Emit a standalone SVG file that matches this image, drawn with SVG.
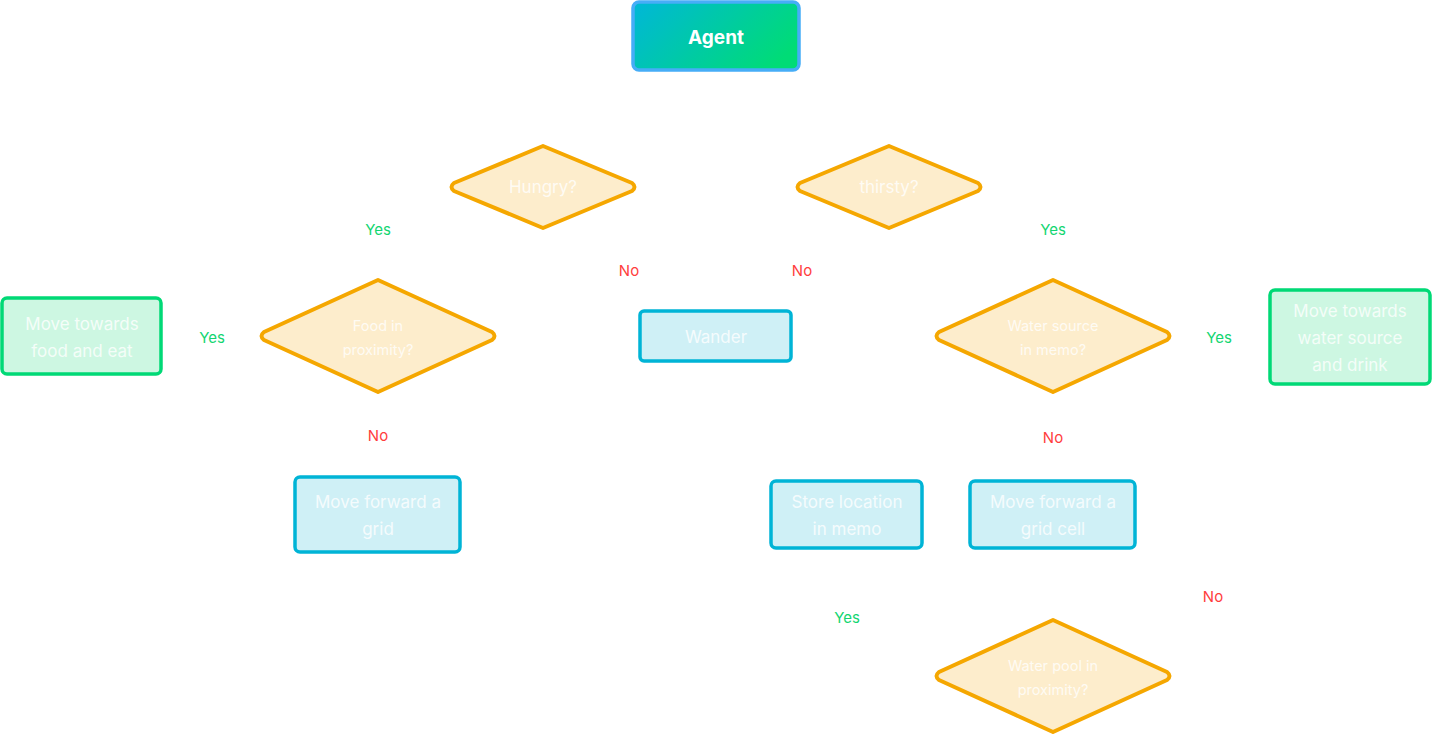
<svg xmlns="http://www.w3.org/2000/svg" width="1432" height="735" viewBox="0 0 1432 735">
<defs>
<linearGradient id="ag" x1="0" y1="0.2" x2="1" y2="0.6">
<stop offset="0" stop-color="#00b9d2"/>
<stop offset="1" stop-color="#00dc76"/>
</linearGradient>
<style>
.dia{fill:#fdedcc;stroke:#f5a700;stroke-width:4;stroke-linejoin:round}
.blue{fill:#cff0f6;stroke:#00b4d6;stroke-width:3.5}
.green{fill:#cdf7e2;stroke:#00d976;stroke-width:3.5}
.t{font-family:Inter,"Liberation Sans",sans-serif;fill:#ffffff;fill-opacity:0.8;text-anchor:middle;dominant-baseline:central}
.t17{font-size:17px}
.t14{font-size:14.5px}
.head{font-size:19px;font-weight:700;fill-opacity:1}
.lbl{font-family:Inter,"Liberation Sans",sans-serif;font-size:15px;text-anchor:middle;dominant-baseline:central}
.yes{fill:#13d671}
.no{fill:#ff3d3d}
</style>
</defs>
<rect width="1432" height="735" fill="#ffffff"/>
<g id="agent">
<rect x="633" y="2" width="166" height="68" rx="6" fill="url(#ag)" stroke="#46adf7" stroke-width="3.5"/>
<text class="t head" x="716" y="37">Agent</text>
</g>
<g id="hungry">
<path class="dia" d="M543 146 L632 183 Q637 187 632 191 L543 228 L454 191 Q449 187 454 183 Z"/>
<text class="t t17" x="543" y="187">Hungry?</text>
</g>
<g id="thirsty">
<path class="dia" d="M889 146 L978 183 Q983 187 978 191 L889 228 L800 191 Q795 187 800 183 Z"/>
<text class="t t17" x="889" y="187">thirsty?</text>
</g>
<g id="food-proximity">
<path class="dia" d="M378 280 L492 332 Q497 336 492 340 L378 392 L264 340 Q259 336 264 332 Z"/>
<text class="t t14" x="378" y="325">Food in</text>
<text class="t t14" x="378" y="349">proximity?</text>
</g>
<g id="water-memo">
<path class="dia" d="M1053 280 L1167 332 Q1172 336 1167 340 L1053 392 L939 340 Q934 336 939 332 Z"/>
<text class="t t14" x="1053" y="325">Water source</text>
<text class="t t14" x="1053" y="349">in memo?</text>
</g>
<g id="water-pool">
<path class="dia" d="M1053 620 L1167 672 Q1172 676 1167 680 L1053 732 L939 680 Q934 676 939 672 Z"/>
<text class="t t14" x="1053" y="665">Water pool in</text>
<text class="t t14" x="1053" y="689">proximity?</text>
</g>
<g id="eat">
<rect class="green" x="2" y="298" width="159" height="76" rx="5"/>
<text class="t t17" x="82" y="324">Move towards</text>
<text class="t t17" x="82" y="351">food and eat</text>
</g>
<g id="wander">
<rect class="blue" x="640" y="311" width="151" height="50" rx="4"/>
<text class="t t17" x="716" y="337">Wander</text>
</g>
<g id="drink">
<rect class="green" x="1270" y="290" width="160" height="94" rx="5"/>
<text class="t t17" x="1350" y="311">Move towards</text>
<text class="t t17" x="1350" y="338">water source</text>
<text class="t t17" x="1350" y="365">and drink</text>
</g>
<g id="forward-grid">
<rect class="blue" x="295" y="477" width="165" height="75" rx="5"/>
<text class="t t17" x="378" y="502">Move forward a</text>
<text class="t t17" x="378" y="529">grid</text>
</g>
<g id="store">
<rect class="blue" x="771" y="481" width="151" height="67" rx="5"/>
<text class="t t17" x="847" y="502">Store location</text>
<text class="t t17" x="847" y="529">in memo</text>
</g>
<g id="forward-cell">
<rect class="blue" x="970" y="481" width="165" height="67" rx="5"/>
<text class="t t17" x="1053" y="502">Move forward a</text>
<text class="t t17" x="1053" y="529">grid cell</text>
</g>
<g id="connectors">
<text class="lbl yes" x="378" y="229">Yes</text>
<text class="lbl no" x="629" y="270">No</text>
<text class="lbl no" x="802" y="270">No</text>
<text class="lbl yes" x="1053" y="229">Yes</text>
<text class="lbl yes" x="212" y="337">Yes</text>
<text class="lbl yes" x="1219" y="337">Yes</text>
<text class="lbl no" x="378" y="435">No</text>
<text class="lbl no" x="1053" y="437">No</text>
<text class="lbl no" x="1213" y="596">No</text>
<text class="lbl yes" x="847" y="617">Yes</text>
</g>
</svg>
